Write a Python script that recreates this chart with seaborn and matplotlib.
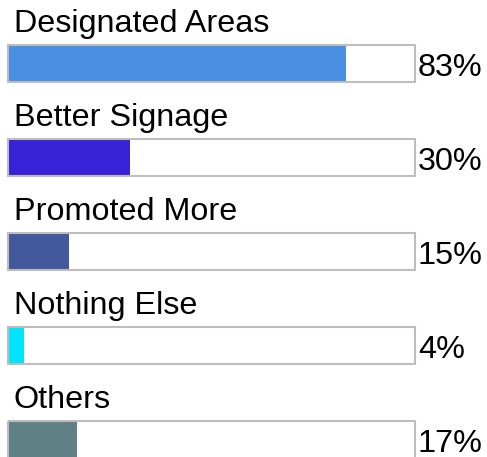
import matplotlib
matplotlib.use("Agg")
import matplotlib.pyplot as plt
import seaborn as sns
import pandas as pd

categories = ["Designated Areas", "Better Signage", "Promoted More", "Nothing Else", "Others"]
values = [83, 30, 15, 4, 17]
colors = ["#4A90E2", "#3822D8", "#44599C", "#00E5FF", "#5F8084"]
full = [100, 100, 100, 100, 100]

sns.set_theme(style="white")
plt.rcParams["font.family"] = ["Liberation Sans", "DejaVu Sans"]

df = pd.DataFrame({"cat": categories, "val": values, "full": full})

fig = plt.figure(figsize=(4.87, 4.57), dpi=100)
ax = fig.add_axes([0, 0, 1, 1])

bw = 37 / 94
sns.barplot(data=df, x="full", y="cat", orient="h", color="white", width=bw,
            edgecolor="none", saturation=1, ax=ax)
sns.barplot(data=df, x="val", y="cat", hue="cat", palette=colors, orient="h",
            width=bw, edgecolor="none", legend=False, saturation=1, ax=ax)
sns.barplot(data=df, x="full", y="cat", orient="h", fill=False, color="#BDBDBD",
            width=bw, linewidth=1.5, saturation=1, ax=ax)

fs = 23.3
for i, (c, v) in enumerate(zip(categories, values)):
    ax.text(1.4, i - 0.335, c, fontsize=fs, color="black", va="baseline", ha="left")
    ax.text(100.7, i + 0.133, f"{v}%", fontsize=fs, color="black", va="baseline", ha="left")

ax.set_xlim(-8 / 4.07, 479 / 4.07)
ax.set_ylim(4.186, -0.676)
ax.axis("off")

fig.savefig("out.png", dpi=100)
